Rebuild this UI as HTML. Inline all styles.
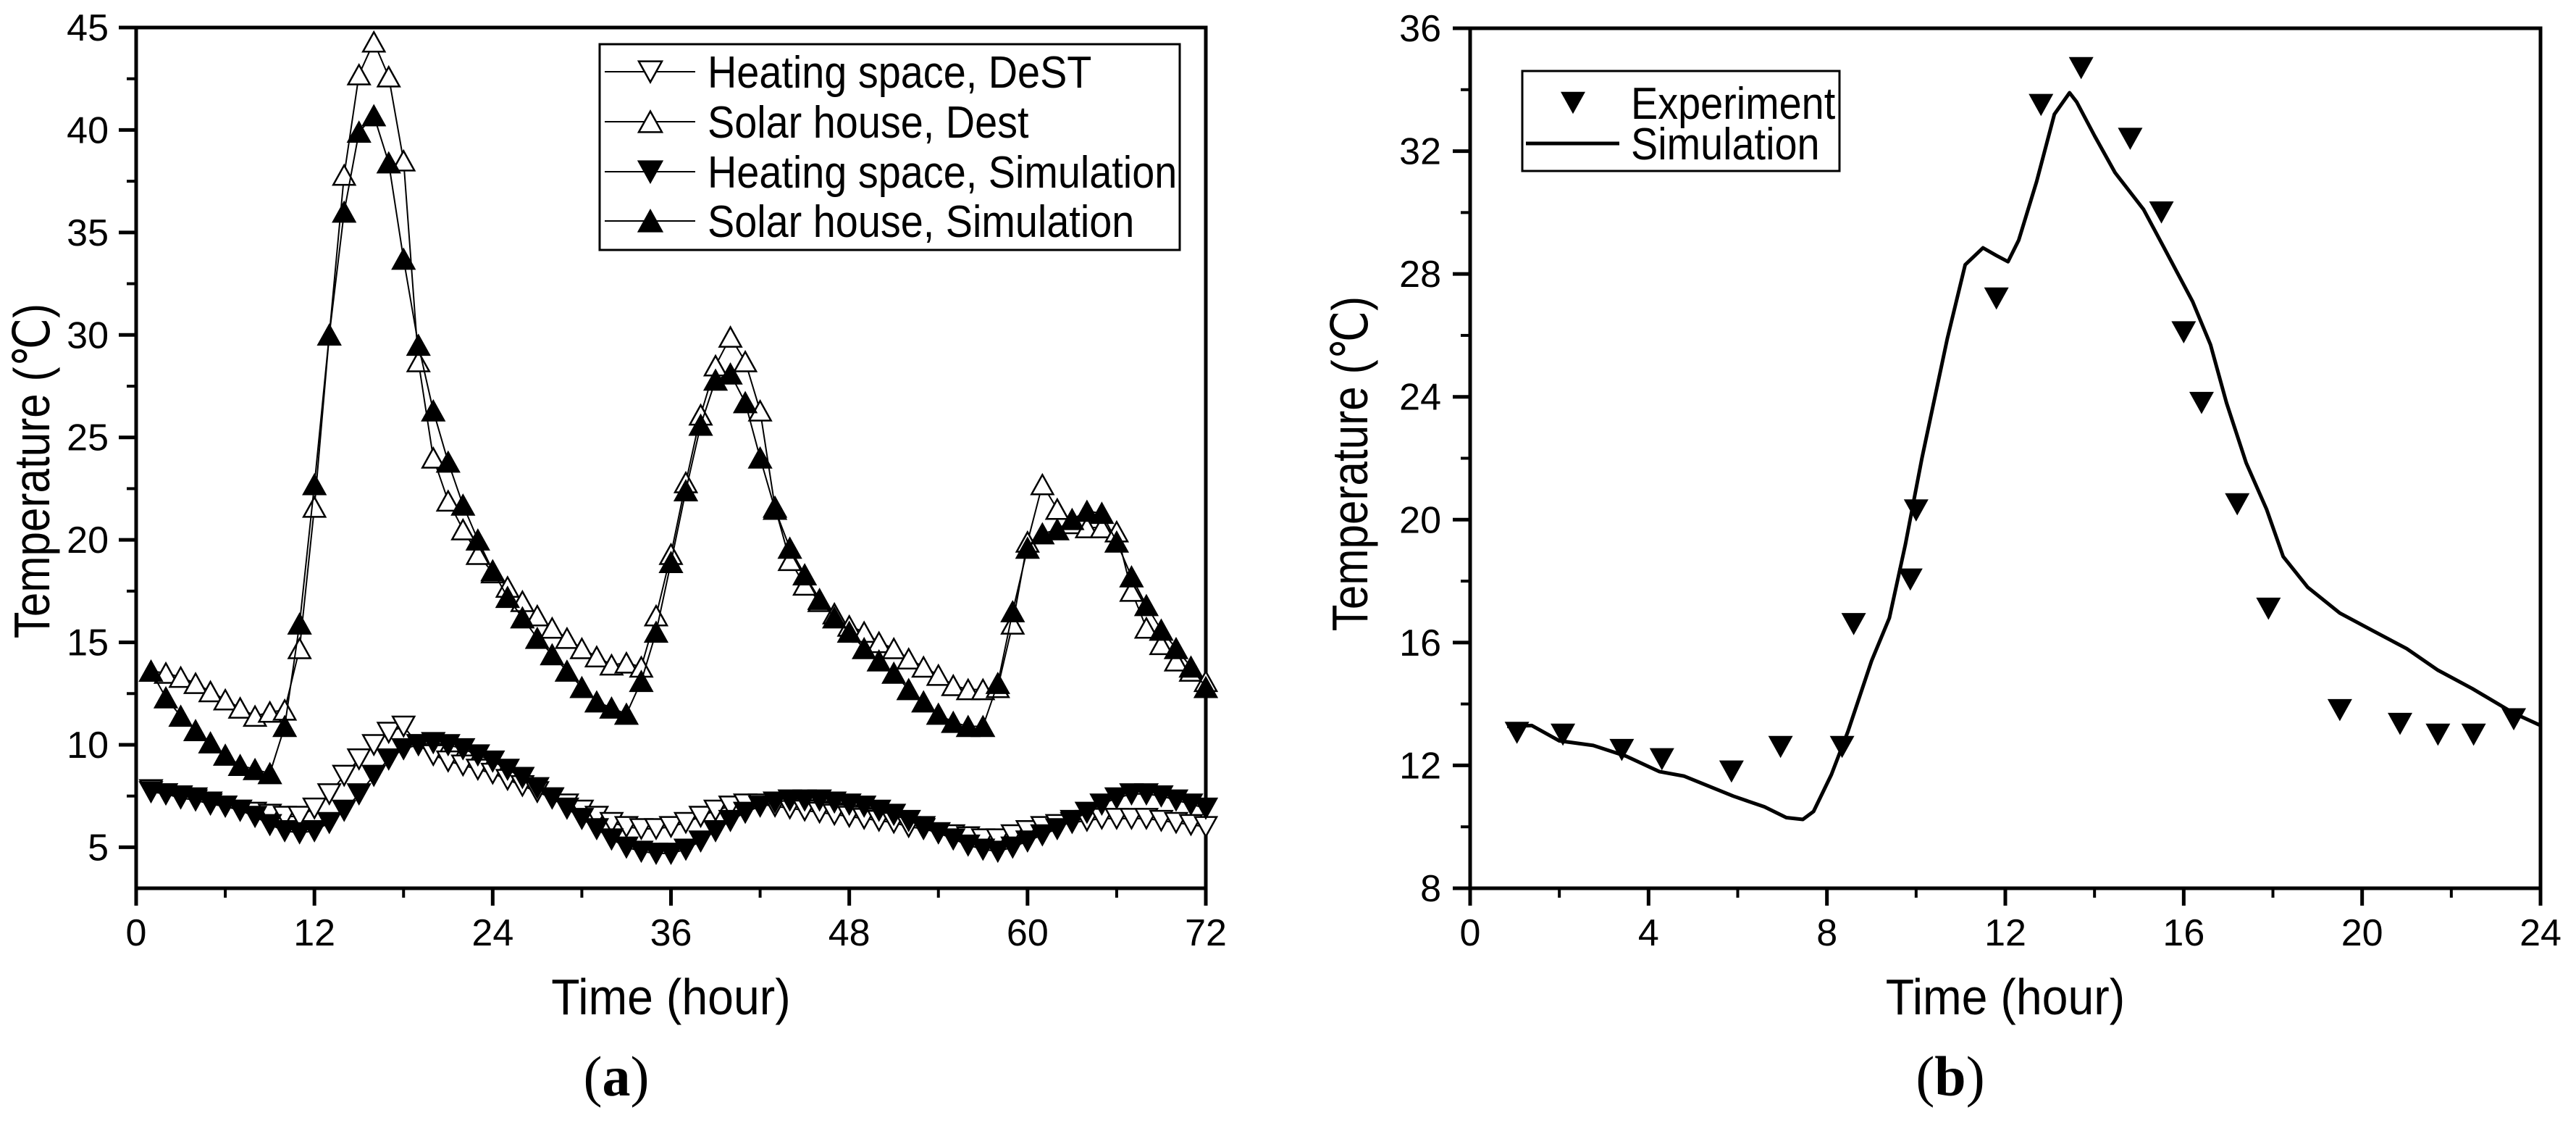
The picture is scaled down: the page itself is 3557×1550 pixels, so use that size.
<!DOCTYPE html>
<html><head><meta charset="utf-8">
<style>
html,body{margin:0;padding:0;background:#fff;}
svg{display:block;font-family:"Liberation Sans",sans-serif;}
</style></head>
<body>
<svg id="fig" width="3557" height="1550" viewBox="0 0 3557 1550" xmlns="http://www.w3.org/2000/svg">
<rect width="3557" height="1550" fill="#fff"/>
<g id="chartA"></g>
<g id="chartB"></g>
<text x="851" y="1512" font-family="Liberation Serif, serif" font-size="78" text-anchor="middle">(<tspan font-weight="bold">a</tspan>)</text>
<text x="2693" y="1512" font-family="Liberation Serif, serif" font-size="78" text-anchor="middle">(<tspan font-weight="bold">b</tspan>)</text>
</svg>
<script>
// ---- Chart A data ----
const hoursA = Array.from({length:72},(_,i)=>i+1);
const solarSim = [13.6,12.3,11.4,10.7,10.1,9.5,9.0,8.8,8.6,10.9,15.9,22.7,30.0,36.0,39.9,40.7,38.4,33.7,29.5,26.3,23.8,21.7,20.0,18.5,17.2,16.2,15.2,14.4,13.6,12.8,12.1,11.8,11.5,13.1,15.5,18.9,22.4,25.6,27.8,28.1,26.7,24.0,21.5,19.6,18.3,17.1,16.2,15.5,14.7,14.1,13.5,12.7,12.1,11.5,11.1,10.9,10.9,13.0,16.5,19.6,20.3,20.5,21.0,21.4,21.3,19.9,18.2,16.8,15.6,14.7,13.8,12.8];
const solarDest = [13.6,13.5,13.3,13.0,12.6,12.2,11.8,11.4,11.6,11.7,14.7,21.6,30.0,37.8,42.7,44.3,42.6,38.5,28.7,24.0,21.9,20.5,19.3,18.4,17.7,17.0,16.3,15.7,15.2,14.7,14.3,13.9,14.0,13.8,16.3,19.3,22.8,26.1,28.5,29.9,28.7,26.3,21.6,19.0,17.8,17.0,16.4,15.8,15.5,15.0,14.7,14.2,13.8,13.4,12.9,12.7,12.7,12.8,15.9,19.9,22.7,21.5,20.8,20.6,20.6,20.4,17.5,15.7,14.9,14.1,13.6,13.1];
const heatSim = [7.7,7.6,7.5,7.4,7.2,7.0,6.8,6.5,6.1,5.8,5.7,5.8,6.2,6.8,7.6,8.5,9.3,9.8,10.0,10.1,10.0,9.8,9.5,9.2,8.8,8.4,7.9,7.4,6.9,6.4,5.9,5.4,5.0,4.8,4.7,4.7,4.9,5.3,5.8,6.3,6.7,7.0,7.2,7.3,7.3,7.3,7.2,7.1,7.0,6.8,6.6,6.3,6.0,5.7,5.4,5.1,4.9,4.8,5.0,5.3,5.6,5.9,6.3,6.7,7.1,7.4,7.6,7.6,7.5,7.3,7.1,6.9];
const heatDest = [7.8,7.6,7.4,7.3,7.1,7.0,6.8,6.7,6.6,6.5,6.5,6.9,7.6,8.5,9.3,10.0,10.6,10.9,10.0,9.5,9.2,9.0,8.8,8.6,8.3,8.0,7.7,7.4,7.1,6.8,6.5,6.2,6.0,5.9,5.9,6.0,6.2,6.5,6.8,7.0,7.1,7.1,7.0,6.9,6.8,6.7,6.6,6.5,6.4,6.3,6.2,6.0,5.9,5.7,5.6,5.5,5.4,5.4,5.6,5.8,6.0,6.1,6.2,6.3,6.4,6.4,6.4,6.4,6.3,6.2,6.1,6.0];
const xTicksA = [0,12,24,36,48,60,72];
const yTicksA = [5,10,15,20,25,30,35,40,45];
const legendA = ["Heating space, DeST","Solar house, Dest","Heating space, Simulation","Solar house, Simulation"];
// ---- Chart B data ----
const expHours = [1.05,2.08,3.4,4.3,5.86,6.96,8.34,8.6,9.87,10.0,11.8,12.8,13.7,14.8,15.5,16.0,16.4,17.2,17.9,19.5,20.85,21.7,22.5,23.4];
const expTemps = [13.06,13.0,12.5,12.2,11.8,12.6,12.6,16.6,18.05,20.3,27.2,33.5,34.7,32.4,30.0,26.1,23.8,20.5,17.1,13.8,13.35,13.0,13.0,13.5];
const simHours = [0.83,1.38,2.0,2.76,3.5,4.24,4.8,5.9,6.6,7.09,7.46,7.7,8.1,8.47,9.0,9.4,9.76,10.13,10.7,11.1,11.5,11.8,12.06,12.3,12.7,13.1,13.44,13.6,14.0,14.46,15.1,15.56,16.2,16.6,16.96,17.4,17.86,18.23,18.78,19.5,20.26,21.0,21.7,22.47,23.4,24.0];
const simTemps = [13.27,13.3,12.8,12.65,12.3,11.8,11.65,11.0,10.65,10.3,10.24,10.5,11.7,13.1,15.4,16.8,19.2,22.0,25.9,28.3,28.85,28.6,28.4,29.1,31.0,33.2,33.9,33.6,32.5,31.3,30.1,28.85,27.1,25.7,23.8,21.85,20.33,18.8,17.8,16.96,16.37,15.8,15.1,14.5,13.7,13.3];
const xTicksB = [0,4,8,12,16,20,24];
const yTicksB = [8,12,16,20,24,28,32,36];
const legendB = ["Experiment","Simulation"];

const NS="http://www.w3.org/2000/svg";
function mk(parent,tag,attrs){const e=document.createElementNS(NS,tag);for(const k in attrs)e.setAttribute(k,attrs[k]);parent.appendChild(e);return e;}
function tri(cx,cy,s,down){const h=s*0.9;return down?`${cx-s/2},${cy-h/2} ${cx+s/2},${cy-h/2} ${cx},${cy+h/2}`:`${cx-s/2},${cy+h/2} ${cx+s/2},${cy+h/2} ${cx},${cy-h/2}`;}
function squeeze(t,f){try{const w=t.getComputedTextLength();t.setAttribute('textLength',w*f);t.setAttribute('lengthAdjust','spacingAndGlyphs');}catch(e){}}

function axes(g,L,R,T,B,xs,ys,xt,yt,xMinor,yMinor,labelRight,titleX,titleCy){
  mk(g,'rect',{x:L,y:T,width:R-L,height:B-T,fill:'none',stroke:'#000','stroke-width':5});
  xt.forEach(v=>{const x=xs(v);
    const t=mk(g,'line',{x1:x,y1:B,x2:x,y2:B+24,stroke:'#000','stroke-width':5});
    
    const l=mk(g,'text',{x:x,y:1305,'font-size':52,'text-anchor':'middle'});l.textContent=v;
    });
  xMinor.forEach(v=>{const x=xs(v);mk(g,'line',{x1:x,y1:B,x2:x,y2:B+13,stroke:'#000','stroke-width':4});});
  yt.forEach(v=>{const y=ys(v);
    const t=mk(g,'line',{x1:L,y1:y,x2:L-24,y2:y,stroke:'#000','stroke-width':5});
    
    const l=mk(g,'text',{x:labelRight,y:y+18,'font-size':52,'text-anchor':'end'});l.textContent=v;
    });
  yMinor.forEach(v=>{const y=ys(v);mk(g,'line',{x1:L,y1:y,x2:L-13,y2:y,stroke:'#000','stroke-width':4});});
  const xtl=mk(g,'text',{x:(L+R)/2,y:1400,'font-size':70,'text-anchor':'middle'});xtl.textContent='Time (hour)';
  
  squeeze(xtl,0.92);
  const ytl=mk(g,'text',{x:0,y:0,'font-size':70,'text-anchor':'middle',transform:`translate(${titleX},${titleCy}) rotate(-90)`});
  ytl.textContent='Temperature (\u2103)';
  
  squeeze(ytl,0.86);
}

// Chart A
(function(){
  const g=document.getElementById('chartA');
  const L=188,R=1665,T=38,B=1226;
  const xs=v=>L+(v-0)/72*(R-L);
  const ys=v=>B-(v-3)/(45-3)*(B-T);
  axes(g,L,R,T,B,xs,ys,xTicksA,yTicksA,[6,18,30,42,54,66],[7.5,12.5,17.5,22.5,27.5,32.5,37.5,42.5],150,68,650);
  const series=[[heatDest,true,'#fff','series-heating-dest'],[solarDest,false,'#fff','series-solar-dest'],[heatSim,true,'#000','series-heating-sim'],[solarSim,false,'#000','series-solar-sim']];
  series.forEach(([d,down,fill,name])=>{
    const sg=mk(g,'g',{});
    const pts=d.map((v,i)=>xs(hoursA[i])+','+ys(v)).join(' ');
    mk(sg,'polyline',{points:pts,fill:'none',stroke:'#000','stroke-width':2});
    d.forEach((v,i)=>{const p=mk(sg,'polygon',{points:tri(xs(hoursA[i]),ys(v),30,down),fill:fill,stroke:'#000','stroke-width':2.5});
      });
  });
  const lg=mk(g,'g',{});
  mk(lg,'rect',{x:828,y:61,width:801,height:284,fill:'#fff',stroke:'#000','stroke-width':3});
  const rows=[99,168,237,305],down=[true,false,true,false],fills=['#fff','#fff','#000','#000'];
  legendA.forEach((s,i)=>{const e=mk(lg,'g',{});
    mk(e,'line',{x1:835,y1:rows[i],x2:960,y2:rows[i],stroke:'#000','stroke-width':2});
    mk(e,'polygon',{points:tri(898,rows[i],32,down[i]),fill:fills[i],stroke:'#000','stroke-width':2.5});
    const t=mk(e,'text',{x:977,y:rows[i]+22,'font-size':62});t.textContent=s;squeeze(t,0.9);});
})();

// Chart B
(function(){
  const g=document.getElementById('chartB');
  const L=2030,R=3508,T=39,B=1226;
  const xs=v=>L+v/24*(R-L);
  const ys=v=>B-(v-8)/(36-8)*(B-T);
  axes(g,L,R,T,B,xs,ys,xTicksB,yTicksB,[2,6,10,14,18,22],[10,14,18,22,26,30,34],1990,1888,640);
  const sl=mk(g,'polyline',{points:simHours.map((h,i)=>xs(h)+','+ys(simTemps[i])).join(' '),fill:'none',stroke:'#000','stroke-width':5,'stroke-linejoin':'round'});
  
  const eg=mk(g,'g',{});
  expHours.forEach((h,i)=>{const p=mk(eg,'polygon',{points:tri(xs(h),ys(expTemps[i]),34,true),fill:'#000'});
    });
  const lg=mk(g,'g',{});
  mk(lg,'rect',{x:2102,y:98,width:438,height:138,fill:'#fff',stroke:'#000','stroke-width':3});
  const e1=mk(lg,'g',{});
  mk(e1,'polygon',{points:tri(2172,142,34,true),fill:'#000'});
  const t1=mk(e1,'text',{x:2252,y:164,'font-size':62});t1.textContent=legendB[0];squeeze(t1,0.9);
  const e2=mk(lg,'g',{});
  mk(e2,'line',{x1:2107,y1:198,x2:2236,y2:198,stroke:'#000','stroke-width':5});
  const t2=mk(e2,'text',{x:2252,y:220,'font-size':62});t2.textContent=legendB[1];squeeze(t2,0.9);
})();
</script>
</body></html>
